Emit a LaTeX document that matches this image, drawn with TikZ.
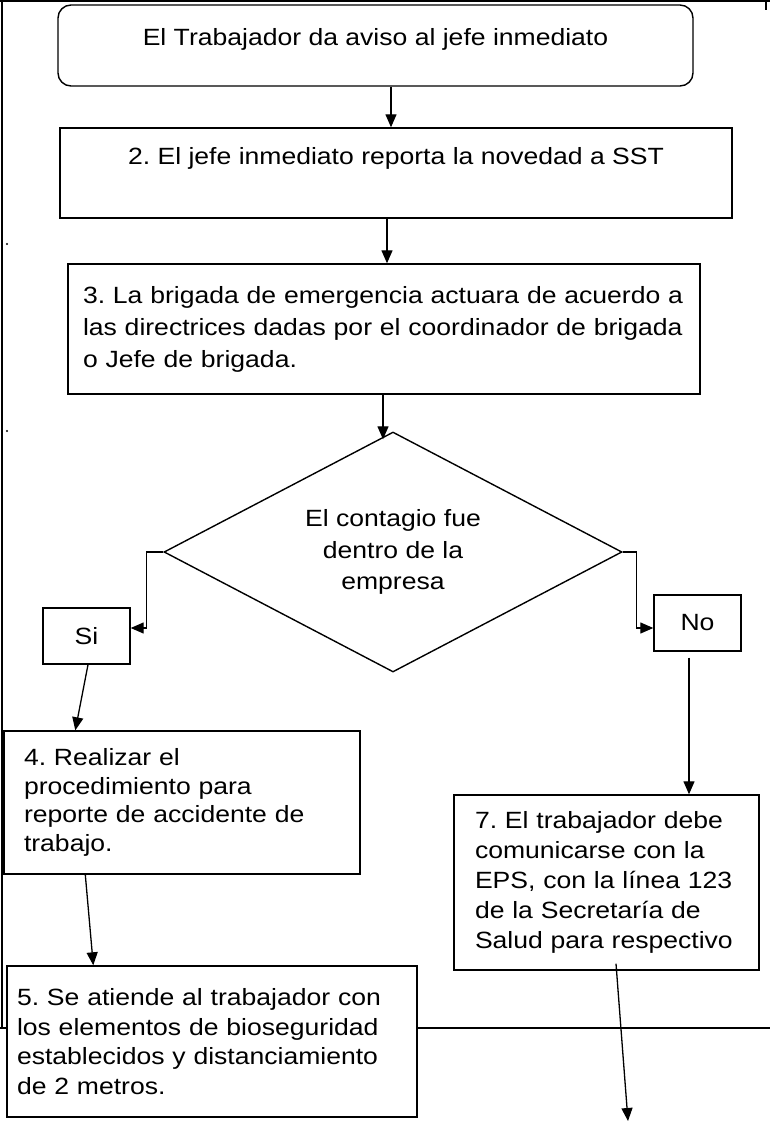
\documentclass[tikz,border=0pt]{standalone}
\usepackage{fontspec}
\setmainfont[FakeStretch=1.13]{Liberation Sans}
\usetikzlibrary{shapes.geometric,arrows.meta}
\frenchspacing

\begin{document}
\begin{tikzpicture}[x=1pt, y=-1pt,
    caja/.style={draw, line width=1.4pt, fill=white, inner sep=0pt, font=\fontsize{23.5}{30}\selectfont},
    flecha/.style={line width=1.3pt, -{Triangle[length=13pt,width=11pt]}},
    borde/.style={line width=1.3pt}]
    \useasboundingbox (0,0) rectangle (770,1123);

    % Page border
    \draw[borde] (0,1) -- (770,1);
    \draw[borde] (2,0) -- (2,1028);
    \draw[borde] (766,0) -- (766,10);
    \draw[borde] (0,1028) -- (770,1028);
    \fill (7,244) circle (1.2pt);
    \fill (7,431) circle (1.2pt);

    % Aviso
    \node[caja, rounded corners=13pt, minimum width=635pt, minimum height=81pt, text height=12pt, text depth=12pt] (b1) at (375.5,45.5) {El Trabajador da aviso al jefe inmediato};

    % Reporte a SST
    \node[caja, minimum width=672pt, minimum height=90pt, text height=10pt, text depth=26pt] (b2) at (396,173) {2. El jefe inmediato reporta la novedad a SST};

    % Brigada
    \node[caja, minimum width=632pt, minimum height=130pt, text width=602pt, inner xsep=15pt, align=left, font=\fontsize{23.5}{32}\selectfont] (b3) at (384,329)
        {3. La brigada de emergencia actuara de acuerdo a\\las directrices dadas por el coordinador de brigada\\o Jefe de brigada.};

    % Decision
    \node[caja, diamond, aspect=1.9, minimum width=458pt, minimum height=240pt, align=center, font=\fontsize{23.5}{31.5}\selectfont] (rombo) at (393,552)
        {El contagio fue\\dentro de la\\empresa};

    \node[caja, minimum width=87pt, minimum height=56pt] (si) at (86.5,636) {Si};
    \node[caja, minimum width=87pt, minimum height=56pt] (no) at (697.5,623) {No};

    % Rama Si
    \node[caja, minimum width=356pt, minimum height=143pt, text width=316pt, inner xsep=20pt, align=left, font=\fontsize{23.5}{28.5}\selectfont] (b4) at (182,802.5)
        {4. Realizar el\\procedimiento para\\reporte de accidente de\\trabajo.};
    \node[caja, minimum width=410pt, minimum height=151pt, text width=390pt, inner xsep=10pt, align=left, font=\fontsize{23.5}{29.5}\selectfont] (b5) at (212,1041.5)
        {5. Se atiende al trabajador con\\los elementos de bioseguridad\\establecidos y distanciamiento\\de 2 metros.};

    % Rama No
    \node[caja, minimum width=305pt, minimum height=175pt, text width=263pt, inner xsep=21pt, align=left] (b7) at (606.5,882.5)
        {7. El trabajador debe\\comunicarse con la\\EPS, con la l\'{\i}nea 123\\de la Secretar\'{\i}a de\\Salud para respectivo};
    \coordinate (fin) at (628,1121);

    % Arrows
    \draw[flecha] ([xshift=15.5pt]b1.south) -- ([xshift=15.5pt]b1.south |- b2.north);
    \draw[flecha] ([xshift=-9pt]b2.south) -- ([xshift=-9pt]b2.south |- b3.north);
    \draw[flecha] ([xshift=-1pt]b3.south) -- ([xshift=-1pt,yshift=-8pt]b3.south |- rombo.north);
    \draw[flecha] (rombo.west) -- ++(-17,0) |- ([yshift=8pt]si.east);
    \draw[flecha] (rombo.east) -- ++(14,0) |- ([yshift=-5pt]no.west);
    \draw[flecha] ([xshift=1.5pt]si.south) -- ([xshift=72pt]b4.north west);
    \draw[flecha] ([xshift=82pt]b4.south west) -- ([xshift=87pt]b5.north west);
    \draw[flecha] ([xshift=-8.5pt,yshift=-6pt]no.south) -- ([xshift=-8.5pt]no.south |- b7.north);
    \draw[flecha] ([xshift=9.5pt,yshift=7pt]b7.south) -- (fin);
\end{tikzpicture}
\end{document}
